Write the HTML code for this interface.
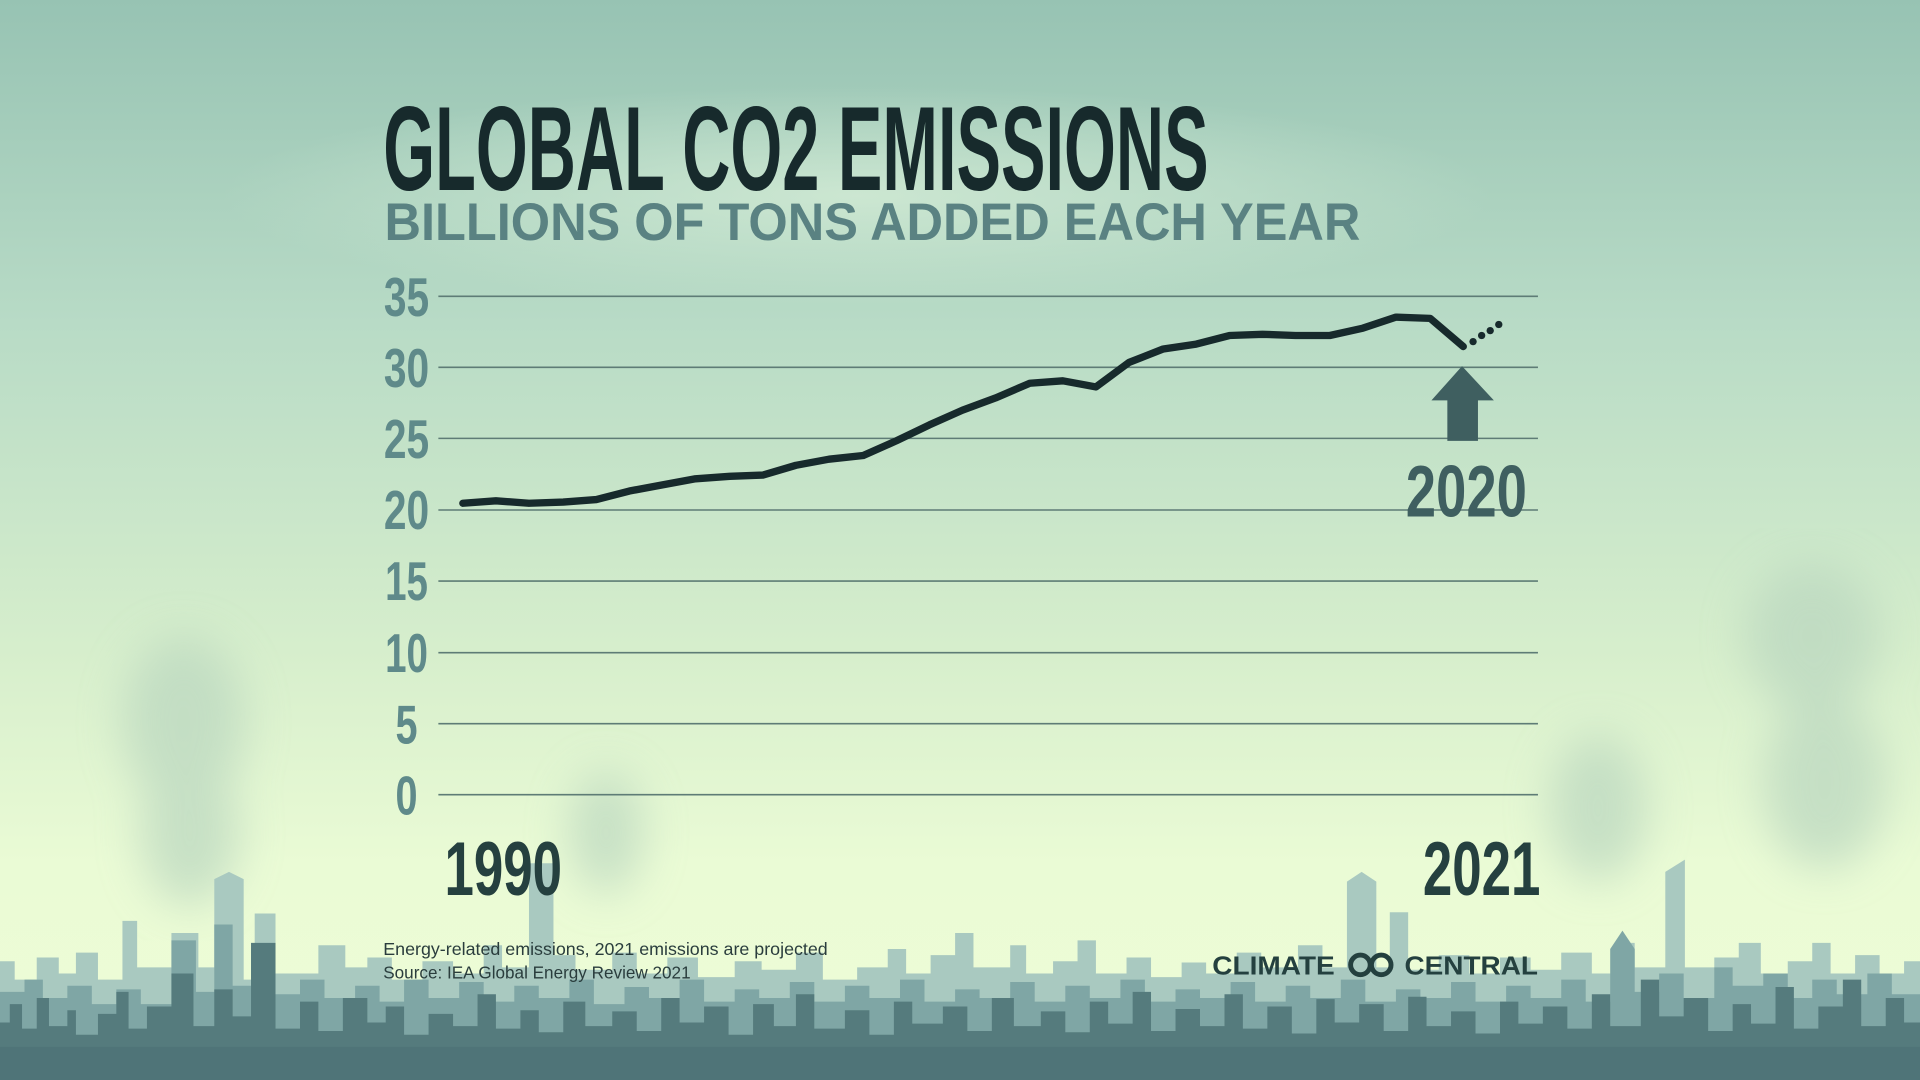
<!DOCTYPE html>
<html><head><meta charset="utf-8"><style>
html,body{margin:0;padding:0;width:1920px;height:1080px;overflow:hidden}
svg{display:block}
text{font-family:"Liberation Sans Narrow","Liberation Sans",sans-serif;font-weight:bold}
</style></head><body>
<svg width="1920" height="1080" viewBox="0 0 1568 882" xmlns="http://www.w3.org/2000/svg">
<defs>
<linearGradient id="bg" x1="0" y1="0" x2="0" y2="1">
<stop offset="0" stop-color="#97c3b3"/>
<stop offset="0.3" stop-color="#b8dbc6"/>
<stop offset="0.6" stop-color="#d6eecc"/>
<stop offset="0.8" stop-color="#eafbd5"/>
<stop offset="1" stop-color="#eefcd6"/>
</linearGradient>
<radialGradient id="glow" cx="0.5" cy="0.5" r="0.5">
<stop offset="0" stop-color="#d4ecd6" stop-opacity="0.8"/>
<stop offset="1" stop-color="#d4ecd6" stop-opacity="0"/>
</radialGradient>
<filter id="blur"><feGaussianBlur stdDeviation="18"/></filter>
</defs>
<rect width="1568" height="882" fill="url(#bg)"/>
<ellipse cx="700" cy="160" rx="520" ry="90" fill="url(#glow)"/>
<g fill="#b9d6bf" opacity="0.7" filter="url(#blur)">
<ellipse cx="150" cy="590" rx="50" ry="70"/><ellipse cx="155" cy="680" rx="40" ry="60"/>
<ellipse cx="1480" cy="520" rx="55" ry="60"/><ellipse cx="1490" cy="640" rx="50" ry="70"/>
<ellipse cx="1305" cy="660" rx="40" ry="60"/><ellipse cx="495" cy="680" rx="30" ry="50"/>
</g>
<!-- light skyline -->
<path fill="#a9c9c0" d="M0,882 L0,785 L12,785 L12,800 L30,800 L30,782 L48,782 L48,795 L62,795 L62,778 L80,778 L80,800 L100,800 L100,752 L112,752 L112,790 L140,790 L140,762 L162,762 L162,790 L175,790 L175,718 L187,712 L199,718 L199,800 L208,800 L208,746 L225,746 L225,795 L260,795 L260,772 L282,772 L282,790 L300,790 L300,782 L320,782 L320,800 L345,800 L345,785 L370,785 L370,795 L395,795 L395,772 L410,772 L410,790 L432,790 L432,705 L452,705 L452,780 L470,780 L470,792 L500,792 L500,778 L520,778 L520,795 L545,795 L545,782 L570,782 L570,798 L600,798 L600,785 L622,785 L622,792 L650,792 L650,778 L672,778 L672,800 L700,800 L700,790 L725,790 L725,775 L740,775 L740,795 L760,795 L760,780 L780,780 L780,762 L795,762 L795,790 L825,790 L825,772 L838,772 L838,795 L860,795 L860,785 L880,785 L880,768 L895,768 L895,795 L920,795 L920,782 L940,782 L940,798 L965,798 L965,786 L985,786 L985,795 L1010,795 L1010,778 L1030,778 L1030,790 L1060,790 L1060,772 L1080,772 L1080,790 L1100,790 L1100,720 L1112,712 L1124,720 L1124,790 L1135,790 L1135,745 L1150,745 L1150,792 L1175,792 L1175,780 L1200,780 L1200,795 L1225,795 L1225,782 L1250,782 L1250,792 L1275,792 L1275,778 L1300,778 L1300,795 L1320,795 L1320,770 L1335,770 L1335,790 L1360,790 L1360,712 L1376,702 L1376,790 L1400,790 L1400,782 L1420,782 L1420,770 L1438,770 L1438,795 L1460,795 L1460,785 L1480,785 L1480,770 L1495,770 L1495,795 L1515,795 L1515,780 L1535,780 L1535,795 L1555,795 L1555,785 L1568,785 L1568,882 Z"/>
<!-- mid skyline -->
<path fill="#7fa6a5" d="M0,882 L0,810 L20,810 L20,800 L35,800 L35,815 L55,815 L55,805 L75,805 L75,820 L95,820 L95,808 L115,808 L115,820 L140,820 L140,768 L160,768 L160,810 L175,810 L175,755 L190,755 L190,805 L205,805 L205,775 L220,775 L220,812 L245,812 L245,800 L265,800 L265,815 L290,815 L290,805 L310,805 L310,818 L330,818 L330,800 L350,800 L350,815 L375,815 L375,802 L395,802 L395,818 L420,818 L420,805 L440,805 L440,815 L465,815 L465,800 L485,800 L485,820 L510,820 L510,806 L530,806 L530,815 L555,815 L555,800 L575,800 L575,818 L600,818 L600,808 L620,808 L620,815 L645,815 L645,802 L665,802 L665,818 L690,818 L690,805 L710,805 L710,815 L735,815 L735,800 L755,800 L755,818 L780,818 L780,808 L800,808 L800,815 L825,815 L825,802 L845,802 L845,818 L870,818 L870,805 L890,805 L890,815 L915,815 L915,800 L935,800 L935,818 L960,818 L960,808 L980,808 L980,815 L1005,815 L1005,802 L1025,802 L1025,818 L1050,818 L1050,805 L1070,805 L1070,815 L1095,815 L1095,800 L1115,800 L1115,818 L1140,818 L1140,808 L1160,808 L1160,815 L1185,815 L1185,802 L1205,802 L1205,818 L1230,818 L1230,805 L1250,805 L1250,815 L1275,815 L1275,800 L1295,800 L1295,818 L1315,818 L1315,775 L1325,760 L1335,775 L1335,810 L1355,810 L1355,795 L1375,795 L1375,815 L1400,815 L1400,790 L1415,790 L1415,805 L1440,805 L1440,795 L1460,795 L1460,815 L1480,815 L1480,800 L1500,800 L1500,812 L1525,812 L1525,795 L1545,795 L1545,812 L1568,812 L1568,882 Z"/>
<!-- dark skyline -->
<path fill="#557b7d" d="M0,882 L0,835 L8,835 L8,820 L18,820 L18,840 L30,840 L30,815 L40,815 L40,838 L55,838 L55,825 L62,825 L62,845 L80,845 L80,828 L95,828 L95,810 L105,810 L105,840 L120,840 L120,822 L140,822 L140,795 L158,795 L158,838 L175,838 L175,808 L190,808 L190,830 L205,830 L205,770 L225,770 L225,840 L245,840 L245,818 L260,818 L260,842 L280,842 L280,815 L300,815 L300,835 L315,835 L315,822 L330,822 L330,845 L350,845 L350,828 L370,828 L370,838 L390,838 L390,812 L405,812 L405,840 L425,840 L425,825 L440,825 L440,843 L460,843 L460,818 L478,818 L478,838 L500,838 L500,826 L520,826 L520,842 L540,842 L540,815 L555,815 L555,835 L575,835 L575,822 L595,822 L595,845 L615,845 L615,820 L632,820 L632,838 L650,838 L650,812 L665,812 L665,840 L690,840 L690,825 L710,825 L710,845 L730,845 L730,818 L745,818 L745,836 L770,836 L770,822 L790,822 L790,842 L810,842 L810,815 L828,815 L828,838 L850,838 L850,826 L870,826 L870,843 L890,843 L890,818 L905,818 L905,836 L925,836 L925,810 L940,810 L940,842 L960,842 L960,824 L980,824 L980,838 L1000,838 L1000,812 L1015,812 L1015,840 L1035,840 L1035,822 L1055,822 L1055,844 L1075,844 L1075,816 L1090,816 L1090,835 L1110,835 L1110,820 L1130,820 L1130,842 L1150,842 L1150,814 L1165,814 L1165,838 L1185,838 L1185,826 L1205,826 L1205,844 L1225,844 L1225,818 L1240,818 L1240,836 L1260,836 L1260,822 L1280,822 L1280,840 L1300,840 L1300,812 L1315,812 L1315,838 L1340,838 L1340,800 L1355,800 L1355,830 L1375,830 L1375,815 L1395,815 L1395,842 L1415,842 L1415,820 L1430,820 L1430,836 L1450,836 L1450,806 L1465,806 L1465,840 L1485,840 L1485,822 L1505,822 L1505,800 L1520,800 L1520,838 L1540,838 L1540,815 L1555,815 L1555,835 L1568,835 L1568,882 Z"/>
<rect x="0" y="855" width="1568" height="27" fill="#4f7478"/>

<!-- title -->
<text x="313" y="155" font-size="98" fill="#172a2c" textLength="674" lengthAdjust="spacingAndGlyphs">GLOBAL CO2 EMISSIONS</text>
<text x="314" y="196" font-size="43" fill="#5a8282" textLength="797" lengthAdjust="spacingAndGlyphs">BILLIONS OF TONS ADDED EACH YEAR</text>

<!-- grid -->
<g stroke="#5e7c76" stroke-width="1.3">
<line x1="358" x2="1256" y1="242" y2="242"/><line x1="358" x2="1256" y1="300" y2="300"/>
<line x1="358" x2="1256" y1="358" y2="358"/><line x1="358" x2="1256" y1="416.5" y2="416.5"/>
<line x1="358" x2="1256" y1="474.5" y2="474.5"/><line x1="358" x2="1256" y1="533" y2="533"/>
<line x1="358" x2="1256" y1="591" y2="591"/><line x1="358" x2="1256" y1="649" y2="649"/>
</g>
<g font-size="45" fill="#5f8a8a" text-anchor="middle">
<text x="332" y="258" textLength="37" lengthAdjust="spacingAndGlyphs">35</text>
<text x="332" y="316" textLength="37" lengthAdjust="spacingAndGlyphs">30</text>
<text x="332" y="374" textLength="37" lengthAdjust="spacingAndGlyphs">25</text>
<text x="332" y="432" textLength="37" lengthAdjust="spacingAndGlyphs">20</text>
<text x="332" y="490" textLength="35" lengthAdjust="spacingAndGlyphs">15</text>
<text x="332" y="549" textLength="35" lengthAdjust="spacingAndGlyphs">10</text>
<text x="332" y="607" textLength="18" lengthAdjust="spacingAndGlyphs">5</text>
<text x="332" y="665" textLength="18" lengthAdjust="spacingAndGlyphs">0</text>
</g>

<!-- series -->
<polyline fill="none" stroke="#172a2c" stroke-width="6" stroke-linejoin="round" stroke-linecap="round"
points="378,411 405,409 432,411 460,410 487,408 514,401 541,396 568,391 596,389 623,388 650,380 677,375 705,372 732,360 759,347 786,335 813,325 841,313 868,311 895,316 922,296 950,285 977,281 1004,274 1031,273 1058,274 1086,274 1113,268 1140,259 1168,260 1195,283"/>
<g fill="#172a2c"><circle cx="1203" cy="279" r="3"/><circle cx="1210" cy="274" r="3"/><circle cx="1217" cy="270" r="3"/><circle cx="1224" cy="265" r="3"/></g>

<!-- arrow -->
<path fill="#3f5f60" d="M1194,299 L1220,327 L1207,327 L1207,360 L1182,360 L1182,327 L1169,327 Z"/>
<text x="1148" y="422" font-size="60" fill="#3f5f60" textLength="99" lengthAdjust="spacingAndGlyphs">2020</text>

<text x="363" y="731" font-size="62" fill="#25403f" textLength="96" lengthAdjust="spacingAndGlyphs">1990</text>
<text x="1162" y="731" font-size="62" fill="#25403f" textLength="96" lengthAdjust="spacingAndGlyphs">2021</text>

<text x="313" y="780" font-size="14" fill="#2a3d3d" style="font-weight:normal" textLength="363" lengthAdjust="spacingAndGlyphs">Energy-related emissions, 2021 emissions are projected</text>
<text x="313" y="799" font-size="14" fill="#2a3d3d" style="font-weight:normal" textLength="251" lengthAdjust="spacingAndGlyphs">Source: IEA Global Energy Review 2021</text>

<text x="990" y="796" font-size="21" fill="#24403f" textLength="100" lengthAdjust="spacingAndGlyphs" style="font-family:'Liberation Sans',sans-serif">CLIMATE</text>
<circle cx="1111" cy="788" r="8" fill="none" stroke="#24403f" stroke-width="4"/>
<circle cx="1128" cy="788" r="8" fill="none" stroke="#24403f" stroke-width="4"/>
<text x="1147" y="796" font-size="21" fill="#24403f" textLength="109" lengthAdjust="spacingAndGlyphs" style="font-family:'Liberation Sans',sans-serif">CENTRAL</text>
</svg>
</body></html>
